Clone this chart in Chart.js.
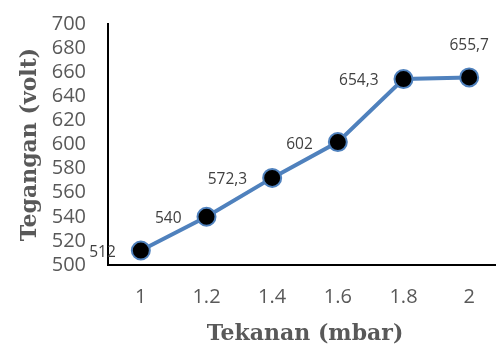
<!DOCTYPE html>
<html>
<head>
<meta charset="utf-8">
<script src="https://cdn.jsdelivr.net/npm/chart.js@4/dist/chart.umd.min.js"></script>
<style>
  html, body { margin: 0; padding: 0; background: #fff; overflow: hidden; }
  #wrap { position: absolute; left: 0; top: 0; width: 513px; height: 347px; }
</style>
</head>
<body>
<div id="wrap"><canvas id="c"></canvas></div>
<script>
// Pressure (mbar) on the x axis, voltage (volt) on the y axis
const pressures = ['1', '1.2', '1.4', '1.6', '1.8', '2'];
const voltages = [512, 540, 572.3, 602, 654.3, 655.7];
const yTicks = [500, 520, 540, 560, 580, 600, 620, 640, 660, 680, 700];

const tickFont = { family: '"Open Sans", sans-serif', size: 20 };
const titleFont = { family: '"DejaVu Serif", serif', size: 22, weight: 'bold' };

// Value labels: left of each marker, the last one above it, decimal comma
const valueLabels = {
  id: 'valueLabels',
  afterDatasetsDraw(chart) {
    const { ctx } = chart;
    const meta = chart.getDatasetMeta(0);
    ctx.save();
    ctx.font = '15.5px "Open Sans", sans-serif';
    ctx.fillStyle = '#404040';
    ctx.textBaseline = 'middle';
    meta.data.forEach((pt, i) => {
      const text = String(voltages[i]).replace('.', ',');
      if (i === meta.data.length - 1) {
        ctx.textAlign = 'center';
        ctx.fillText(text, pt.x, pt.y - 32);
      } else {
        ctx.textAlign = 'right';
        ctx.fillText(text, pt.x - 25, pt.y + 2);
      }
    });
    ctx.restore();
  }
};

new Chart(document.getElementById('c'), {
  type: 'line',
  data: {
    labels: pressures,
    datasets: [{
      data: voltages,
      borderColor: '#4f81bd',
      borderWidth: 4,
      pointRadius: 9,
      pointBorderWidth: 2,
      pointBackgroundColor: '#000000',
      pointBorderColor: '#4f81bd',
      tension: 0
    }]
  },
  options: {
    responsive: true,
    maintainAspectRatio: false,
    animation: false,
    layout: { padding: { top: 24, left: 0, right: 0, bottom: 0 } },
    plugins: { legend: { display: false }, tooltip: { enabled: false } },
    scales: {
      x: {
        type: 'category',
        offset: true,
        grid: { display: false, drawTicks: false },
        border: { display: true, color: '#000000', width: 2 },
        ticks: { color: '#595959', font: tickFont, padding: 20, maxRotation: 0 },
        title: { display: true, text: 'Tekanan (mbar)', color: '#595959', font: titleFont, padding: { top: 0, bottom: 0 } },
        afterFit(scale) { scale.height = 82; }
      },
      y: {
        min: 500,
        max: 700,
        afterBuildTicks(scale) { scale.ticks = yTicks.map(v => ({ value: v })); },
        grid: { display: false, drawTicks: false },
        border: { display: true, color: '#000000', width: 2 },
        ticks: { color: '#595959', font: tickFont, padding: 22, autoSkip: false },
        title: { display: true, text: 'Tegangan (volt)', color: '#595959', font: titleFont, padding: { top: 17, bottom: 0 } },
        afterFit(scale) {
          scale.width = 108;
          scale.paddingTop = 12;
          scale.paddingBottom = 12;
        }
      }
    }
  },
  plugins: [valueLabels]
});
</script>
</body>
</html>
